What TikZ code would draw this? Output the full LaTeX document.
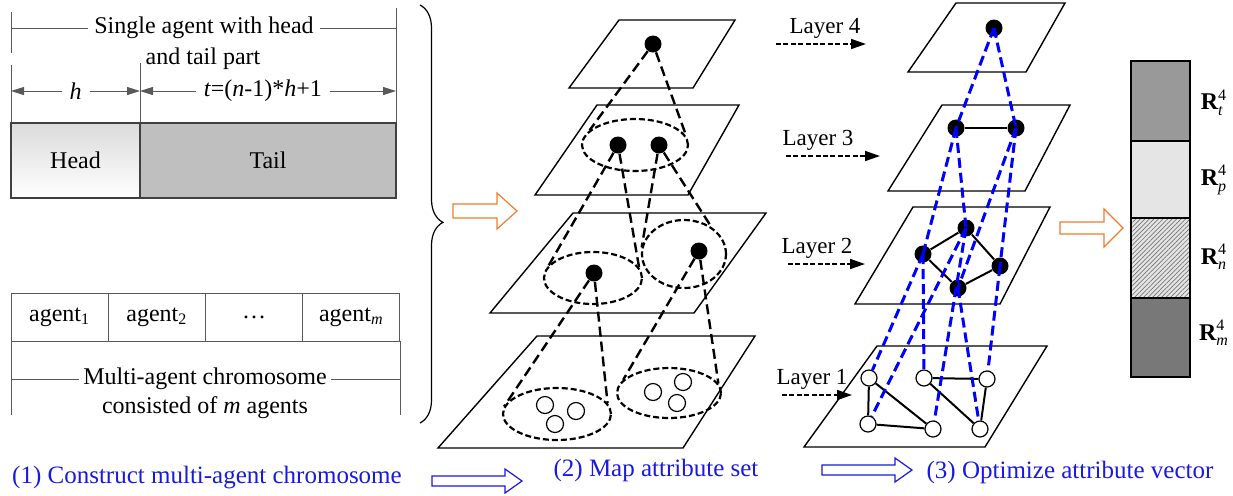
\documentclass[tikz,border=0pt]{standalone}
\usepackage{amsmath}
\usepackage{fontspec}
\setmainfont{Liberation Serif}
\usepackage{tikz}
\usetikzlibrary{arrows.meta,positioning,shapes.geometric,decorations.pathreplacing,patterns.meta}
\definecolor{stepblue}{RGB}{25,25,225}
\definecolor{arrorange}{RGB}{240,125,45}
\definecolor{linkblue}{RGB}{0,0,255}

\begin{document}
\begin{tikzpicture}[x=0.5pt,y=-0.5pt,
  txt/.style={font=\fontsize{12}{14}\selectfont,inner sep=1pt},
  gline/.style={draw=black!65,line width=0.5pt},
  dimarrow/.style={gline,{Triangle[length=6.5pt,width=4pt]}-{Triangle[length=6.5pt,width=4pt]}},
  plane/.style={draw,line width=0.7pt},
  dot/.style={circle,fill,inner sep=0pt,minimum size=8.5pt},
  hole/.style={circle,draw,fill=white,inner sep=0pt,minimum size=8pt,line width=0.6pt},
  ring/.style={ellipse,draw,dash pattern=on 3pt off 1.5pt,line width=1.1pt,inner sep=0pt},
  cone/.style={dash pattern=on 5pt off 2.5pt,line width=1.2pt},
  link/.style={draw=linkblue,dash pattern=on 5pt off 2.5pt,line width=1.5pt},
  graphline/.style={line width=1pt},
  layerarrow/.style={dash pattern=on 2.5pt off 1.2pt,line width=0.8pt,-{Triangle[length=7.5pt,width=5pt]}},
  hollow/.style={line width=0.6pt,fill=white,line join=miter}]
  \useasboundingbox (0,0) rectangle (1233,495);

  % (1) single agent and chromosome
  \draw[gline] (11,12) -- (11,53);
  \draw[gline] (11,65) -- (11,198);
  \draw[gline] (396,8) -- (396,198);
  \draw[gline] (140,63) -- (140,123);
  \draw[gline] (11,28) -- (396,28);
  \node[txt,fill=white,inner xsep=3pt] (ttl) at (204,28) {Single agent with head};
  \node[txt] (ttl2) at (203,59) {and tail part};
  \coordinate (hl) at (11,91);
  \coordinate (hm) at (140,91);
  \coordinate (tr) at (396,91);
  \draw[dimarrow] (hl) -- (hm) node[midway,txt,fill=white,inner xsep=4pt] (hlen) {\textit{h}};
  \draw[dimarrow] (hm) -- (tr) node[pos=0.48,txt,fill=white,inner xsep=4pt] (tlen) {\textit{t}=(\textit{n}-1)*\textit{h}+1};
  \node[draw=black!75,line width=0.6pt,top color=black!14,bottom color=white,minimum width=64.5pt,minimum height=37.5pt,txt] (head) at (75.5,160.5) {Head};
  \node[draw=black!75,line width=0.6pt,fill=black!25,minimum width=128pt,minimum height=37.5pt,txt] (tail) at (268,160.5) {Tail};

  \foreach \i/\lbl in {0/agent\textsubscript{1},1/agent\textsubscript{2},2/\ldots,3/agent\textsubscript{\textit{m}}}
    \node[gline,txt,minimum width=48.6pt,minimum height=24pt] (ag\i) at (59.6+97.25*\i,317) {\lbl};
  \draw[gline] (11,341) -- (11,415);
  \draw[gline] (400,341) -- (400,415);
  \draw[gline] (11,379) -- (400,379);
  \node[txt,fill=white,inner xsep=2pt] (chr) at (205,379) {Multi-agent chromosome};
  \node[txt] (chr2) at (205,408) {consisted of \textit{m} agents};

  \draw[decorate,decoration={brace,amplitude=11.5pt,aspect=0.52},line width=0.6pt] (420,5) -- (420,423);
  \draw[arrorange,hollow] (453,204) -- (497,204) -- (497,193) -- (517,211) -- (497,229) -- (497,218) -- (453,218) -- cycle;

  % (2) attribute set layers
  \draw[plane] (619,20) -- (735,20) -- (693,88) -- (569,88) -- cycle;
  \draw[plane] (597,105) -- (739,105) -- (688,195) -- (535,195) -- cycle;
  \draw[plane] (573,213) -- (766,213) -- (694,313) -- (490,313) -- cycle;
  \draw[plane] (537,336) -- (755,336) -- (683,448) -- (438,448) -- cycle;

  \node[ring,minimum width=53pt,minimum height=26pt] (e2) at (635,145) {};
  \node[ring,minimum width=49pt,minimum height=26pt] (e3a) at (593,278) {};
  \node[ring,minimum width=42pt,minimum height=34pt] (e3b) at (684,254) {};
  \node[ring,minimum width=54pt,minimum height=26pt] (e4a) at (557,414) {};
  \node[ring,minimum width=52pt,minimum height=25pt] (e4b) at (669,393) {};

  \node[dot] (m1) at (653,44) {};
  \node[dot] (m2a) at (618,145) {};
  \node[dot] (m2b) at (659,145) {};
  \node[dot] (m3a) at (594,273) {};
  \node[dot] (m3b) at (699,251) {};
  \foreach \n/\x/\y in {1/545/405,2/576/411,3/555/424,4/653/392,5/683/382,6/677/403}
    \node[hole,minimum size=8.5pt] (c\n) at (\x,\y) {};

  \draw[cone] (m1) -- (e2.162);
  \draw[cone] (m1) -- (e2.9);
  \draw[cone] (m2a) -- (e3a.164);
  \draw[cone] (m2a) -- (e3a.13);
  \draw[cone] (m2b) -- (e3b.171);
  \draw[cone] (m2b) -- (e3b.45);
  \draw[cone] (m3a) -- (e4a.172);
  \draw[cone] (m3a) -- (e4a.12);
  \draw[cone] (m3b) -- (e4b.164);
  \draw[cone] (m3b) -- (e4b.11);

  % (3) attribute vector layers
  \draw[plane] (956,3) -- (1065,3) -- (1026,72) -- (908,72) -- cycle;
  \draw[plane] (942,105) -- (1070,105) -- (1025,191) -- (888,191) -- cycle;
  \draw[plane] (913,207) -- (1050,207) -- (1000,304) -- (855,304) -- cycle;
  \draw[plane] (877,346) -- (1047,346) -- (985,447) -- (804,447) -- cycle;

  \foreach \n/\x/\y/\a/\b in {4/825/28/776/866,3/818/140/786/880,2/817/248/788/865,1/812/379/782/852} {
    \node[txt,font=\fontsize{11.5}{14}\selectfont] (lay\n) at (\x,\y) {Layer \n};
    \coordinate (la\n) at (\a,\y+16);
    \coordinate (lb\n) at (\b,\y+16);
    \draw[layerarrow] (la\n) -- (lb\n);
  }

  \node[dot] (r4) at (994,28) {};
  \node[dot] (r3a) at (956,128) {};
  \node[dot] (r3b) at (1016,128) {};
  \node[dot] (r2a) at (923,254) {};
  \node[dot] (r2b) at (966,228) {};
  \node[dot] (r2c) at (1000,266) {};
  \node[dot] (r2d) at (958,288) {};
  \foreach \n/\x/\y in {a/869/378,b/924/378,c/987/379,d/868/424,e/933/429,f/980/429}
    \node[hole] (r1\n) at (\x,\y) {};

  \foreach \a/\b in {r3a/r3b,r2a/r2b,r2b/r2c,r2c/r2d,r2d/r2a,r1a/r1d,r1a/r1e,r1d/r1e,r1b/r1c,r1b/r1f,r1c/r1f}
    \draw[graphline] (\a) -- (\b);
  \foreach \a/\b in {r4/r3a,r4/r3b,r3a/r2a,r3a/r2b,r3b/r2d,r3b/r2c}
    \draw[link] (\a.center) -- (\b.center);
  \foreach \a/\b in {r2a/r1a,r2a/r1b,r2b/r1d,r2b/r1e,r2d/r1f,r2c/r1c}
    \draw[link] (\a.center) -- (\b);

  \draw[arrorange,hollow] (1060,222) -- (1104,222) -- (1104,209) -- (1123,228) -- (1104,247) -- (1104,234) -- (1060,234) -- cycle;

  % attribute vector
  \fill[black!40] (1131,61) rectangle (1190,141);
  \fill[black!10] (1131,141) rectangle (1190,218);
  \fill[black!10] (1131,218) rectangle (1190,298);
  \fill[pattern={Lines[angle=45,distance=1.6pt,line width=0.35pt]},pattern color=black!55] (1131,218) rectangle (1190,298);
  \fill[black!53] (1131,298) rectangle (1190,377);
  \foreach \y in {141,218,298}
    \draw[line width=0.6pt] (1131,\y) -- (1190,\y);
  \draw[line width=0.7pt] (1131,61) rectangle (1190,377);
  \node[txt] (rt) at (1214,103) {$\textbf{R}^{\textrm{4}}_{\textit{t}}$};
  \node[txt] (rp) at (1214,180) {$\textbf{R}^{\textrm{4}}_{\textit{p}}$};
  \node[txt] (rn) at (1214,257) {$\textbf{R}^{\textrm{4}}_{\textit{n}}$};
  \node[txt] (rm) at (1214,333) {$\textbf{R}^{\textrm{4}}_{\textit{m}}$};

  % steps
  \node[txt,text=stepblue,font=\fontsize{12.5}{15}\selectfont] (s1) at (207,478) {(1) Construct multi-agent chromosome};
  \node[txt,text=stepblue,font=\fontsize{12.5}{15}\selectfont] (s2) at (656,470) {(2) Map attribute set};
  \node[txt,text=stepblue,font=\fontsize{12.5}{15}\selectfont] (s3) at (1070,472) {(3) Optimize attribute vector};
  \draw[stepblue,hollow] (432,476) -- (505,476) -- (505,469) -- (522,481) -- (505,493) -- (505,486) -- (432,486) -- cycle;
  \draw[stepblue,hollow] (822,465) -- (895,465) -- (895,458) -- (912,470) -- (895,482) -- (895,475) -- (822,475) -- cycle;
\end{tikzpicture}
\end{document}
